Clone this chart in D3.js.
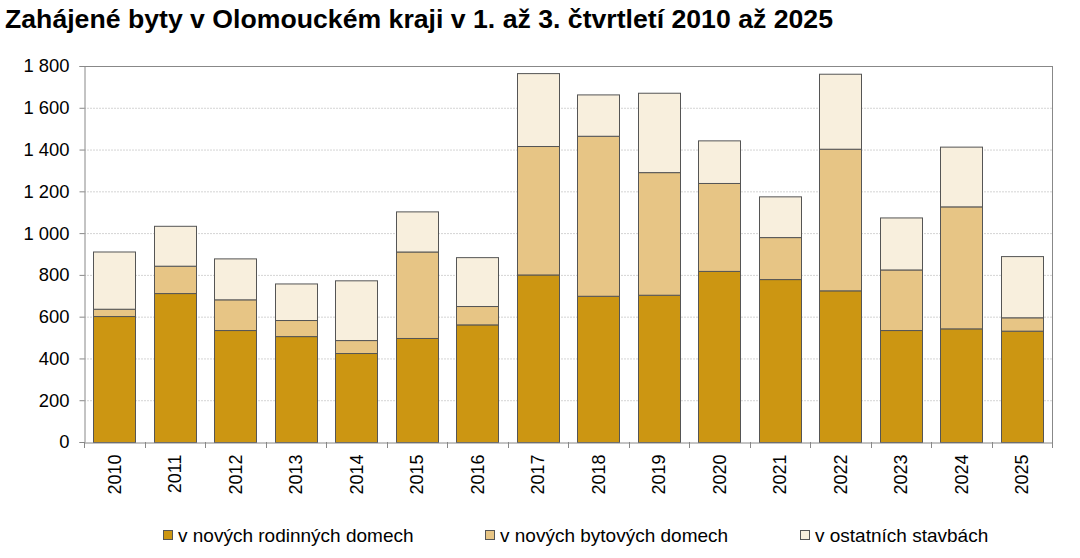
<!DOCTYPE html>
<html><head><meta charset="utf-8">
<script src="https://cdn.jsdelivr.net/npm/d3@7"></script>
<style>body{margin:0;background:#fff;} svg{display:block;font-family:"Liberation Sans",Arial,sans-serif;}</style>
</head><body>
<svg id="c" width="1080" height="558"></svg>
<script>
const years = ["2010","2011","2012","2013","2014","2015","2016","2017","2018","2019","2020","2021","2022","2023","2024","2025"];
const rodinne = [603,713,536,507,426,498,563,802,700,705,819,780,726,536,544,533];
const bytove = [35,131,147,77,62,414,88,615,766,587,421,201,678,290,584,64];
const ostatni = [274,191,196,175,286,192,234,349,198,380,204,195,359,249,286,293];
const seriesNames = ["v nových rodinných domech","v nových bytových domech","v ostatních stavbách"];
const yTicks = [0,200,400,600,800,1000,1200,1400,1600,1800];
const colors = ["#CC9612","#E7C585","#F8EFDD"];

const svg = d3.select("#c");
const L=84, R=1052, T=66, B=442;
const x = d3.scaleBand().domain(years).range([L,R]).paddingInner(0.3).paddingOuter(0.15);
const y = d3.scaleLinear().domain([0,1800]).range([B,T]);
const fmt = v => d3.format(",")(v).replace(/,/g," ");

svg.append("text").attr("x",5).attr("y",28).attr("font-size",25).attr("font-weight","bold")
  .attr("textLength",828).attr("lengthAdjust","spacingAndGlyphs")
  .attr("fill","#000").text("Zahájené byty v Olomouckém kraji v 1. až 3. čtvrtletí 2010 až 2025");

// grid
svg.append("g").selectAll("line").data(yTicks.filter(d=>d>0&&d<1800)).join("line")
  .attr("x1",L).attr("x2",R).attr("y1",d=>y(d)+0.5).attr("y2",d=>y(d)+0.5)
  .attr("stroke","#d4d4d4").attr("stroke-dasharray","2,1");

// border top/right
svg.append("line").attr("x1",L).attr("x2",R+0.5).attr("y1",y(1800)+0.5).attr("y2",y(1800)+0.5).attr("stroke","#888");
svg.append("line").attr("x1",R+0.5).attr("x2",R+0.5).attr("y1",y(1800)).attr("y2",B).attr("stroke","#888");

// stacked data
const data = years.map((yr,i)=>({year:yr, a:rodinne[i], b:bytove[i], c:ostatni[i]}));
const stack = d3.stack().keys(["a","b","c"])(data);
svg.append("g").selectAll("g").data(stack).join("g").attr("fill",(d,i)=>colors[i])
  .selectAll("rect").data(d=>d).join("rect")
  .attr("x",d=>Math.round(x(d.data.year))+0.5)
  .attr("width",Math.round(x.bandwidth()))
  .attr("y",d=>y(d[1])+0.5)
  .attr("height",d=>y(d[0])-y(d[1]))
  .attr("stroke","#555").attr("stroke-width",1);

// y axis
const ya = svg.append("g").attr("transform",`translate(${L+0.5},0)`)
  .call(d3.axisLeft(y).tickValues(yTicks).tickFormat(fmt).tickSize(5).tickPadding(10));
ya.select(".domain").attr("stroke","#888");
ya.selectAll(".tick line").attr("stroke","#888");
ya.selectAll("text").attr("font-size",18.4).attr("fill","#000").attr("font-family","Liberation Sans, Arial, sans-serif");

// x axis
const xa = svg.append("g").attr("transform",`translate(0,${B+0.5})`)
  .call(d3.axisBottom(x).tickSize(0).tickPadding(0));
xa.select(".domain").attr("stroke","#888");
xa.selectAll(".tick text").attr("font-size",18).attr("fill","#000")
  .attr("font-family","Liberation Sans, Arial, sans-serif")
  .attr("transform","rotate(-90)").attr("text-anchor","end").attr("dx","-12px").attr("dy","0.35em").attr("y",0);
const bounds = d3.range(years.length+1).map(i=> L + i*(R-L)/years.length);
svg.append("g").selectAll("line").data(bounds).join("line")
  .attr("x1",d=>Math.round(d)+0.5).attr("x2",d=>Math.round(d)+0.5)
  .attr("y1",B).attr("y2",B+6).attr("stroke","#888");

// legend
const legX = [163,485,800];
const lg = svg.append("g");
seriesNames.forEach((n,i)=>{
  lg.append("rect").attr("x",legX[i]+0.5).attr("y",530.5).attr("width",9).attr("height",9)
    .attr("fill",colors[i]).attr("stroke","#555");
  lg.append("text").attr("x",legX[i]+15).attr("y",541.5).attr("font-size",19).attr("fill","#000").text(n);
});
</script>
</body></html>
